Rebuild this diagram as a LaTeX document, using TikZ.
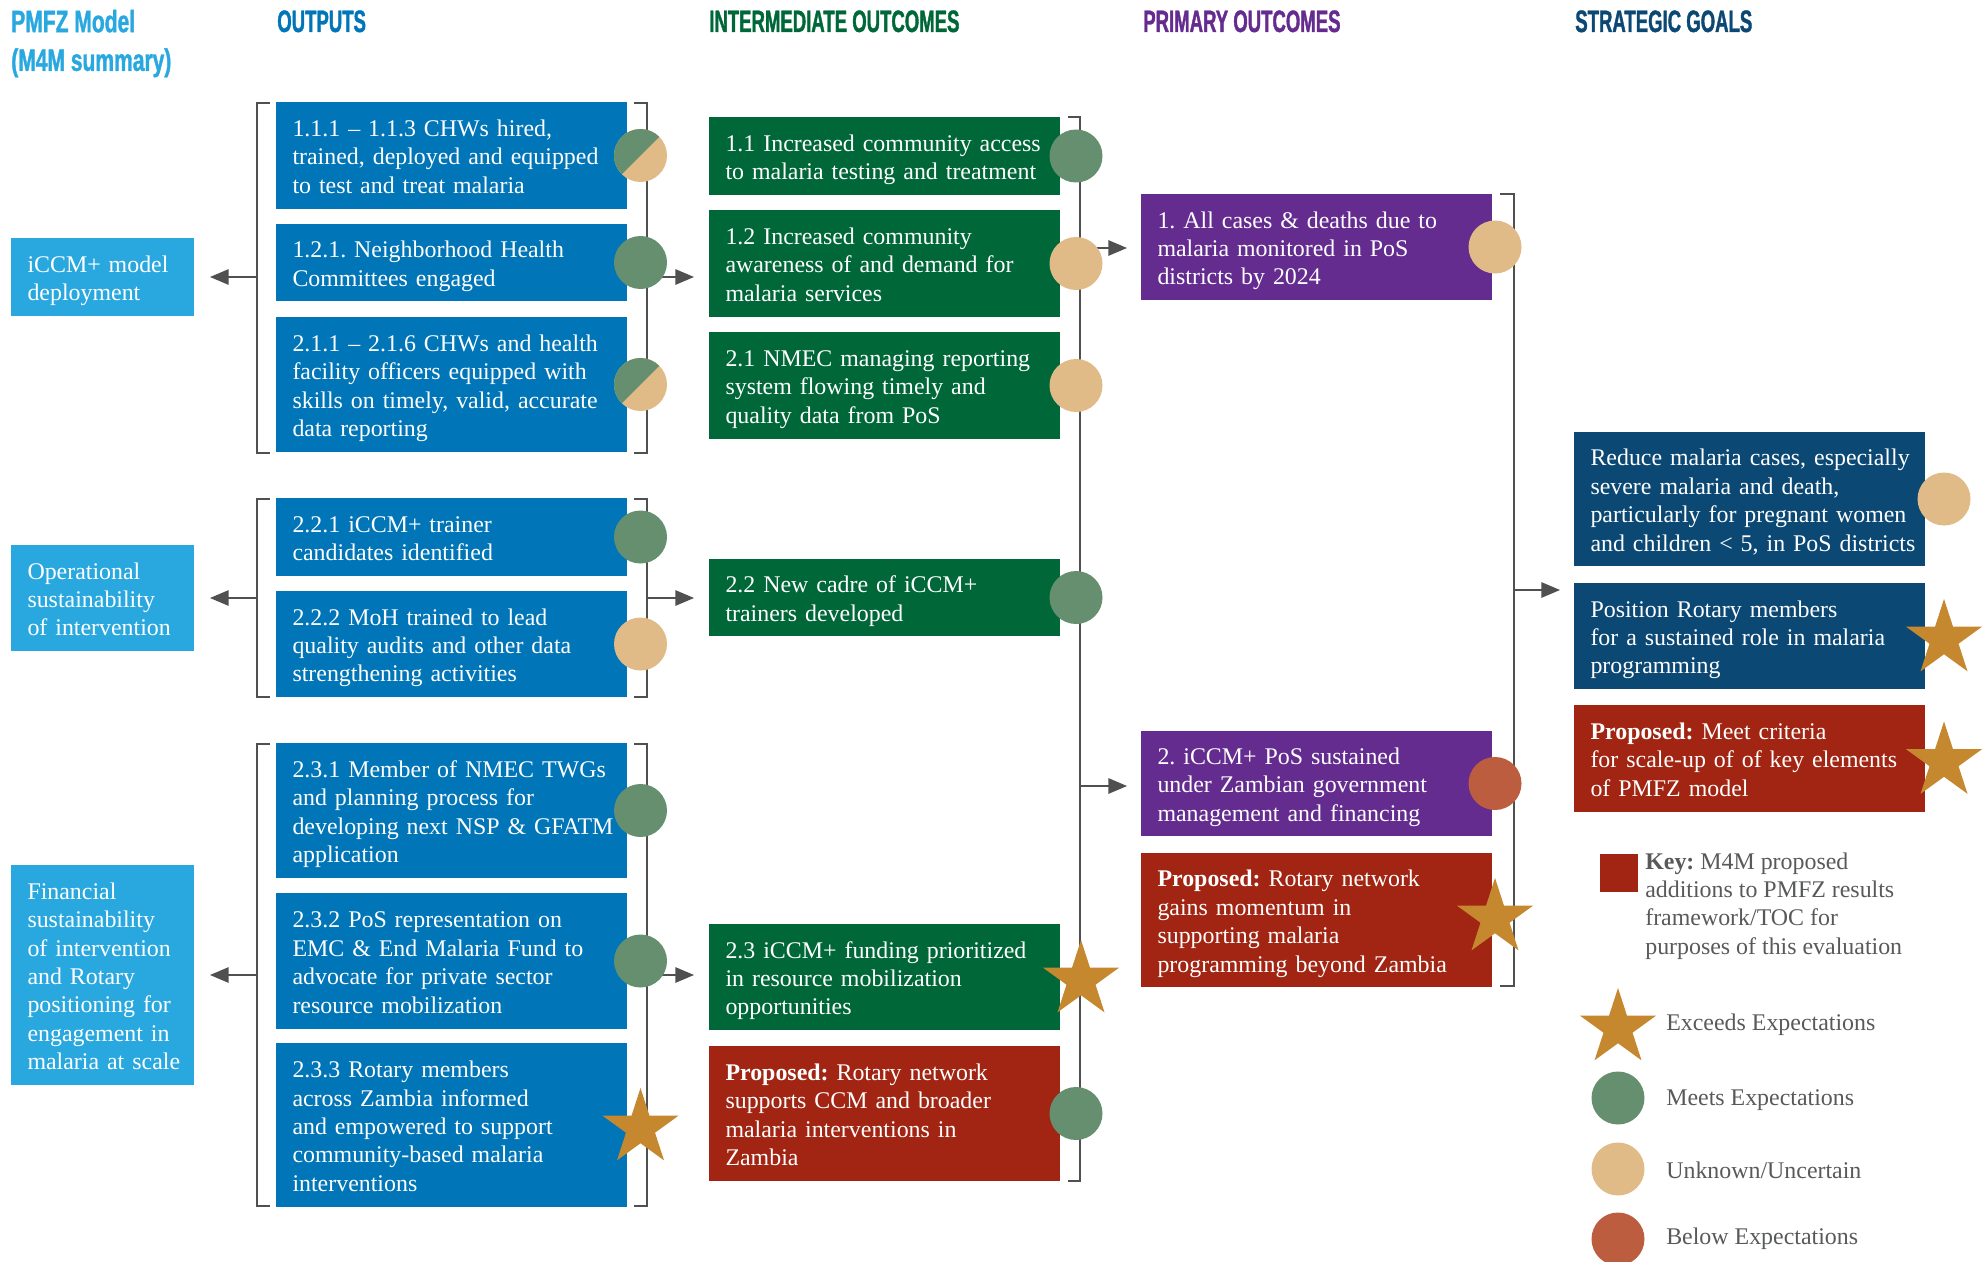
\documentclass[tikz,border=0pt]{standalone}
\usepackage{fontspec}
\setmainfont{Liberation Serif}
\newfontfamily\headfont[FakeStretch=0.6, FakeBold=1.2]{Liberation Sans}
\newfontfamily\headwide[FakeStretch=0.68, FakeBold=1.2]{Liberation Sans}
\usetikzlibrary{arrows,shapes,calc}

\definecolor{skyc}{HTML}{29A8E0}
\definecolor{outc}{HTML}{0075B7}
\definecolor{midc}{HTML}{006838}
\definecolor{primc}{HTML}{652C90}
\definecolor{stratc}{HTML}{0B4874}
\definecolor{newc}{HTML}{A12512}
\definecolor{goldc}{HTML}{C5882F}
\definecolor{meetc}{HTML}{668F6F}
\definecolor{unsurec}{HTML}{E0BB88}
\definecolor{missc}{HTML}{BC5D40}
\definecolor{linec}{HTML}{505050}
\definecolor{greyc}{HTML}{58595B}

% keep the given line breaks, no rewrapping
\newcommand{\boxlines}[1]{\noindent\begin{tabular}{@{}l@{}}\rule{0pt}{19.5pt}#1\end{tabular}}

\begin{document}
\begin{tikzpicture}[x=0.25mm, y=-0.25mm,
  every node/.style={font=\fontsize{17}{20.2}\selectfont\frenchspacing},
  head/.style={font=\headfont\bfseries\fontsize{22}{27.5}\selectfont, inner sep=0pt, anchor=base west},
  box/.style={anchor=north west, align=left, text=white, inner xsep=4.125mm, inner ysep=0pt, outer sep=0pt, text width=79.5mm},
  goalbox/.style={box, text width=37.5mm, fill=skyc},
  outbox/.style={box, fill=outc},
  midbox/.style={box, fill=midc},
  primbox/.style={box, fill=primc},
  stratbox/.style={box, fill=stratc},
  newbox/.style={box, fill=newc},
  boxh/.style={minimum height=#1*0.25mm},
  meet/.style={circle, fill=meetc, minimum size=13.25mm, inner sep=0pt, outer sep=0pt},
  unsure/.style={meet, fill=unsurec},
  miss/.style={meet, fill=missc},
  exceed/.style={star, star points=5, star point ratio=2.618, fill=goldc, minimum size=20mm, inner sep=0pt, outer sep=0pt},
  brk/.style={line width=2.1pt, draw=linec},
  arr/.style={brk, -triangle 45},
  legend/.style={text=greyc, align=left, inner sep=0pt, anchor=west}]

  \useasboundingbox (0,0) rectangle (1988,1262);

  % column heads
  \node[head, font=\headwide\bfseries\fontsize{22}{27.5}\selectfont, text=skyc, anchor=north west, align=left] at (11,9.5) (hmodel) {PMFZ Model\\(M4M summary)};
  \node[head, text=outc] at (277,32) (hout) {OUTPUTS};
  \node[head, text=midc] at (709,32) (hmid) {INTERMEDIATE OUTCOMES};
  \node[head, text=primc] at (1143,32) (hprim) {PRIMARY OUTCOMES};
  \node[head, text=stratc] at (1575,32) (hstrat) {STRATEGIC GOALS};

  % brackets and lines
  \draw[brk] (270,103) -- (257,103) -- (257,453) -- (270,453);
  \draw[brk] (634,103) -- (647,103) -- (647,453) -- (634,453);
  \draw[brk] (270,499) -- (257,499) -- (257,697) -- (270,697);
  \draw[brk] (634,499) -- (647,499) -- (647,697) -- (634,697);
  \draw[brk] (270,744) -- (257,744) -- (257,1206) -- (270,1206);
  \draw[brk] (634,744) -- (647,744) -- (647,1206) -- (634,1206);
  \draw[brk] (1068,117) -- (1080,117) -- (1080,1181) -- (1068,1181);
  \draw[brk] (1500,194) -- (1514,194) -- (1514,986) -- (1500,986);

  \coordinate (g1l) at (257,277);
  \coordinate (g1r) at (647,277);
  \coordinate (g2l) at (257,598);
  \coordinate (g2r) at (647,598);
  \coordinate (g3l) at (257,975);
  \coordinate (g3r) at (647,975);
  \coordinate (iv1) at (1080,248);
  \coordinate (iv2) at (1080,786);
  \coordinate (pv) at (1514,590);

  % model column
  \node[goalbox, boxh=78] at (11,238) (dep) {\boxlines{iCCM+ model\\deployment}};
  \node[goalbox, boxh=106] at (11,545) (ops) {\boxlines{Operational\\sustainability\\of intervention}};
  \node[goalbox, boxh=220] at (11,865) (fin) {\boxlines{Financial\\sustainability\\of intervention\\and Rotary\\positioning for\\engagement in\\malaria at scale}};

  % outputs
  \node[outbox, boxh=107] at (276,102) (o111) {\boxlines{1.1.1 -- 1.1.3 CHWs hired,\\trained, deployed and equipped\\to test and treat malaria}};
  \node[outbox, boxh=77] at (276,224) (o121) {\boxlines{1.2.1. Neighborhood Health\\Committees engaged}};
  \node[outbox, boxh=135] at (276,317) (o211) {\boxlines{2.1.1 -- 2.1.6 CHWs and health\\facility officers equipped with\\skills on timely, valid, accurate\\data reporting}};
  \node[outbox, boxh=78] at (276,498) (o221) {\boxlines{2.2.1 iCCM+ trainer\\candidates identified}};
  \node[outbox, boxh=106] at (276,591) (o222) {\boxlines{2.2.2 MoH trained to lead\\quality audits and other data\\strengthening activities}};
  \node[outbox, boxh=135] at (276,743) (o231) {\boxlines{2.3.1 Member of NMEC TWGs\\and planning process for\\developing next NSP \& GFATM\\application}};
  \node[outbox, boxh=136] at (276,893) (o232) {\boxlines{2.3.2 PoS representation on\\EMC \& End Malaria Fund to\\advocate for private sector\\resource mobilization}};
  \node[outbox, boxh=164] at (276,1043) (o233) {\boxlines{2.3.3 Rotary members\\across Zambia informed\\and empowered to support\\community-based malaria\\interventions}};

  % intermediate outcomes
  \node[midbox, boxh=78] at (709,117) (i11) {\boxlines{1.1 Increased community access\\to malaria testing and treatment}};
  \node[midbox, boxh=107] at (709,210) (i12) {\boxlines{1.2 Increased community\\awareness of and demand for\\malaria services}};
  \node[midbox, boxh=107] at (709,332) (i21) {\boxlines{2.1 NMEC managing reporting\\system flowing timely and\\quality data from PoS}};
  \node[midbox, boxh=77] at (709,559) (i22) {\boxlines{2.2 New cadre of iCCM+\\trainers developed}};
  \node[midbox, boxh=106] at (709,924) (i23) {\boxlines{2.3 iCCM+ funding prioritized\\in resource mobilization\\opportunities}};
  \node[newbox, boxh=135] at (709,1046) (iprop) {\boxlines{\textbf{Proposed:} Rotary network\\supports CCM and broader\\malaria interventions in\\Zambia}};

  % primary outcomes
  \node[primbox, boxh=106] at (1141,194) (p1) {\boxlines{1. All cases \& deaths due to\\malaria monitored in PoS\\districts by 2024}};
  \node[primbox, boxh=105] at (1141,731) (p2) {\boxlines{2. iCCM+ PoS sustained\\under Zambian government\\management and financing}};
  \node[newbox, boxh=134] at (1141,853) (pprop) {\boxlines{\textbf{Proposed:} Rotary network\\gains momentum in\\supporting malaria\\programming beyond Zambia}};

  % strategic goals
  \node[stratbox, boxh=134] at (1574,432) (s1) {\boxlines{Reduce malaria cases, especially\\severe malaria and death,\\particularly for pregnant women\\and children < 5, in PoS districts}};
  \node[stratbox, boxh=106] at (1574,583) (s2) {\boxlines{Position Rotary members\\for a sustained role in malaria\\programming}};
  \node[newbox, boxh=107] at (1574,705) (s3) {\boxlines{\textbf{Proposed:} Meet criteria\\for scale-up of of key elements\\of PMFZ model}};

  % arrows
  \draw[arr, shorten >=4mm] (g1l) -- (dep.east);
  \draw[arr, shorten >=4mm] (g2l) -- (ops.east);
  \draw[arr, shorten >=4mm] (g3l) -- (fin.east);
  \draw[arr, shorten >=3.75mm] (g1r) -- (g1r -| i12.west);
  \draw[arr, shorten >=3.75mm] (g2r) -- (g2r -| i22.west);
  \draw[arr, shorten >=3.75mm] (g3r) -- (g3r -| i23.west);
  \draw[arr, shorten >=3.5mm] (iv1) -- (iv1 -| p1.west);
  \draw[arr, shorten >=3.5mm] (iv2) -- (iv2 -| p2.west);
  \draw[arr, shorten >=3.5mm] (pv) -- (pv -| s2.west);

  % ratings
  \node[unsure] at ($(o111.east)+(13.5,0)$) (m111) {};
  \fill[meetc] (m111.north east) arc[start angle=45, end angle=225, radius=6.625mm] -- cycle;
  \node[meet] at ($(o121.east)+(13.5,0)$) (m121) {};
  \node[unsure] at ($(o211.east)+(13.5,0)$) (m211) {};
  \fill[meetc] (m211.north east) arc[start angle=45, end angle=225, radius=6.625mm] -- cycle;
  \node[meet] at ($(o221.east)+(13.5,0)$) (m221) {};
  \node[unsure] at ($(o222.east)+(13.5,0)$) (m222) {};
  \node[meet] at ($(o231.east)+(13.5,0)$) (m231) {};
  \node[meet] at ($(o232.east)+(13.5,0)$) (m232) {};
  \node[exceed] at ($(o233.east)+(13.5,3)$) (m233) {};

  \node[meet] at ($(i11.east)+(16,0)$) (m11) {};
  \node[unsure] at ($(i12.east)+(16,0)$) (m12) {};
  \node[unsure] at ($(i21.east)+(16,0)$) (m21) {};
  \node[meet] at ($(i22.east)+(16,0)$) (m22) {};
  \node[exceed] at ($(i23.east)+(21,3)$) (m23) {};
  \node[meet] at ($(iprop.east)+(16,0)$) (mprop) {};

  \node[unsure] at ($(p1.east)+(3,0)$) (n1) {};
  \node[miss] at ($(p2.east)+(3,0)$) (n2) {};
  \node[exceed] at ($(pprop.east)+(3,-2)$) (nprop) {};

  \node[unsure] at ($(s1.east)+(19,0)$) (t1) {};
  \node[exceed] at ($(s2.east)+(19,3)$) (t2) {};
  \node[exceed] at ($(s3.east)+(19,3)$) (t3) {};

  % key
  \node[fill=newc, minimum size=9.5mm, inner sep=0pt, anchor=north west] at (1600,854) (keysq) {};
  \node[legend] at (1645,906) (keytext) {\textbf{Key:} M4M proposed\\additions to PMFZ results\\framework/TOC for\\purposes of this evaluation};
  \node[exceed] at (1618,1028) (kstar) {};
  \node[legend] at (1666,1025) (kstartext) {Exceeds Expectations};
  \node[meet] at (1618,1098) (kmeet) {};
  \node[legend] at (1666,1100) (kmeettext) {Meets Expectations};
  \node[unsure] at (1618,1169) (kunsure) {};
  \node[legend] at (1666,1170) (kunsuretext) {Unknown/Uncertain};
  \node[miss] at (1618,1239) (kmiss) {};
  \node[legend] at (1666,1239) (kmisstext) {Below Expectations};

\end{tikzpicture}
\end{document}
